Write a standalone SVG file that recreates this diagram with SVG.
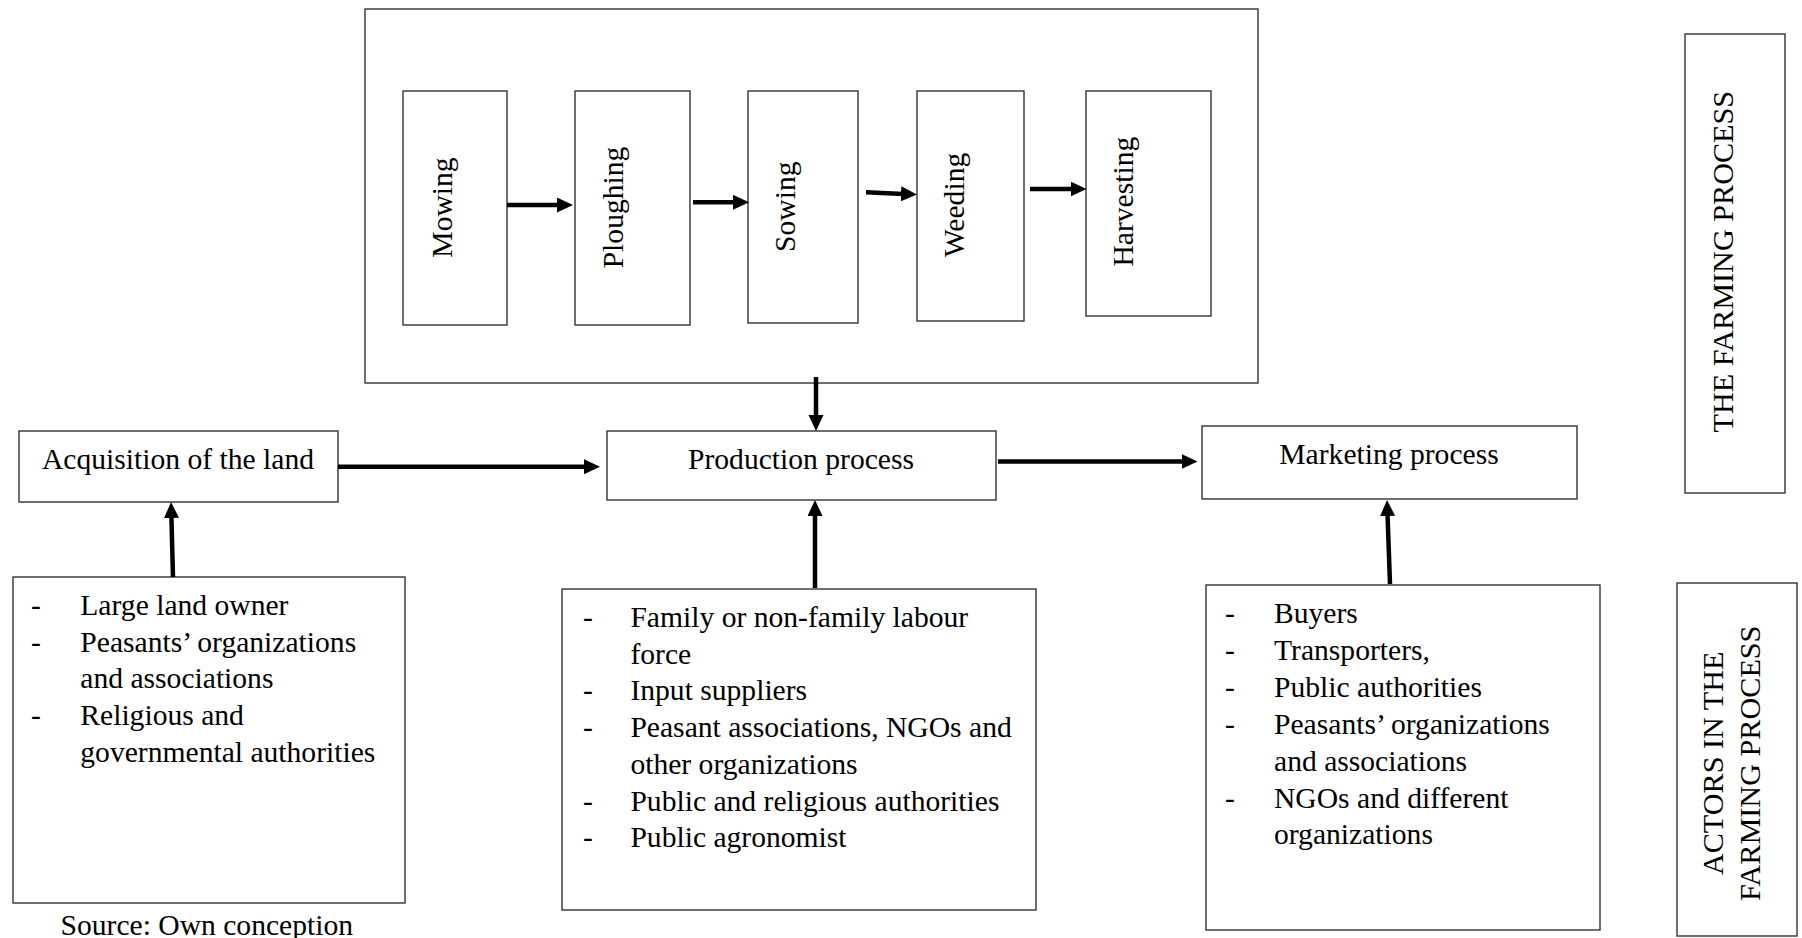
<svg xmlns="http://www.w3.org/2000/svg" width="1802" height="938" viewBox="0 0 1802 938">
  <style>
    .box { fill: #ffffff; stroke: #333333; stroke-width: 1.4; }
    .lbl { font-family: "Liberation Serif", "Times New Roman", serif; font-size: 29.6px; fill: #000000; }
    .side { font-size: 30.2px; }
    .mid { text-anchor: middle; }
    .arrow { stroke: #000000; stroke-width: 4.5; fill: none; marker-end: url(#head); }
  </style>
  <defs>
    <marker id="head" markerUnits="userSpaceOnUse" markerWidth="18" markerHeight="16" refX="2" refY="7.5" orient="auto">
      <path d="M0,0 L16,7.5 L0,15 Z" fill="#000000"/>
    </marker>
  </defs>

  <rect width="1802" height="938" fill="#ffffff"/>

  <!-- farming steps frame -->
  <g id="farming-steps">
    <rect class="box" x="365" y="9" width="893" height="374"/>
  </g>

  <g id="mowing">
    <rect class="box" x="403" y="91" width="104" height="234"/>
    <text class="lbl mid" transform="translate(451.5,207.5) rotate(-90)">Mowing</text>
  </g>
  <g id="ploughing">
    <rect class="box" x="575" y="91" width="115" height="234"/>
    <text class="lbl mid" transform="translate(623,207.5) rotate(-90)">Ploughing</text>
  </g>
  <g id="sowing">
    <rect class="box" x="748" y="91" width="110" height="232"/>
    <text class="lbl mid" transform="translate(795,206.7) rotate(-90)">Sowing</text>
  </g>
  <g id="weeding">
    <rect class="box" x="917" y="91" width="107" height="230"/>
    <text class="lbl mid" transform="translate(964,205) rotate(-90)">Weeding</text>
  </g>
  <g id="harvesting">
    <rect class="box" x="1086" y="91" width="125" height="225"/>
    <text class="lbl mid" transform="translate(1133,201.7) rotate(-90)">Harvesting</text>
  </g>

  <!-- main chain -->
  <g id="acquisition">
    <rect class="box" x="19" y="431" width="319" height="71"/>
    <text class="lbl mid" x="178" y="469.3">Acquisition of the land</text>
  </g>
  <g id="production">
    <rect class="box" x="607" y="431" width="389" height="69"/>
    <text class="lbl mid" x="801" y="468.5">Production process</text>
  </g>
  <g id="marketing">
    <rect class="box" x="1202" y="426" width="375" height="73"/>
    <text class="lbl mid" x="1389" y="464.2">Marketing process</text>
  </g>

  <!-- actors for each stage -->
  <g id="actors-land">
    <rect class="box" x="13" y="577" width="392" height="326"/>
    <g class="lbl">
      <text x="31" y="615">-</text><text x="80.3" y="615">Large land owner</text>
      <text x="31" y="651.7">-</text><text x="80.3" y="651.7">Peasants’ organizations</text>
      <text x="80.3" y="688.3">and associations</text>
      <text x="31" y="725">-</text><text x="80.3" y="725">Religious and</text>
      <text x="80.3" y="761.7">governmental authorities</text>
    </g>
  </g>
  <g id="actors-production">
    <rect class="box" x="562" y="589" width="474" height="321"/>
    <g class="lbl">
      <text x="583" y="627">-</text><text x="630.4" y="627">Family or non-family labour</text>
      <text x="630.4" y="663.7">force</text>
      <text x="583" y="700.4">-</text><text x="630.4" y="700.4">Input suppliers</text>
      <text x="583" y="737.1">-</text><text x="630.4" y="737.1">Peasant associations, NGOs and</text>
      <text x="630.4" y="773.8">other organizations</text>
      <text x="583" y="810.5">-</text><text x="630.4" y="810.5">Public and religious authorities</text>
      <text x="583" y="847.2">-</text><text x="630.4" y="847.2">Public agronomist</text>
    </g>
  </g>
  <g id="actors-marketing">
    <rect class="box" x="1206" y="585" width="394" height="345"/>
    <g class="lbl">
      <text x="1225" y="623">-</text><text x="1274" y="623">Buyers</text>
      <text x="1225" y="660">-</text><text x="1274" y="660">Transporters,</text>
      <text x="1225" y="696.8">-</text><text x="1274" y="696.8">Public authorities</text>
      <text x="1225" y="733.8">-</text><text x="1274" y="733.8">Peasants’ organizations</text>
      <text x="1274" y="770.6">and associations</text>
      <text x="1225" y="807.6">-</text><text x="1274" y="807.6">NGOs and different</text>
      <text x="1274" y="843.6">organizations</text>
    </g>
  </g>

  <text id="source" class="lbl" x="60.5" y="935">Source: Own conception</text>

  <!-- side legends -->
  <g id="legend-process">
    <rect class="box" x="1685" y="34" width="100" height="459"/>
    <text class="lbl side mid" transform="translate(1733,261.7) rotate(-90)">THE FARMING PROCESS</text>
  </g>
  <g id="legend-actors">
    <rect class="box" x="1677" y="583" width="120" height="353"/>
    <text class="lbl side mid" transform="translate(1722.7,763.3) rotate(-90)">ACTORS IN THE</text>
    <text class="lbl side mid" transform="translate(1760,763.3) rotate(-90)">FARMING PROCESS</text>
  </g>

  <!-- connectors -->
  <g id="connectors">
    <line class="arrow" x1="507" y1="205" x2="559" y2="205"/>
    <line class="arrow" x1="693" y1="202.3" x2="735" y2="202.3"/>
    <line class="arrow" x1="866" y1="192.3" x2="903" y2="193.9"/>
    <line class="arrow" x1="1030" y1="189" x2="1072.5" y2="189"/>
    <line class="arrow" x1="338" y1="466.7" x2="586" y2="466.7"/>
    <line class="arrow" x1="998" y1="461.5" x2="1183.5" y2="461.5"/>
    <line class="arrow" x1="816" y1="377" x2="816" y2="417"/>
    <line class="arrow" x1="173" y1="577" x2="171.4" y2="516"/>
    <line class="arrow" x1="815" y1="588" x2="815" y2="514"/>
    <line class="arrow" x1="1390" y1="584" x2="1387.5" y2="514"/>
  </g>
</svg>
